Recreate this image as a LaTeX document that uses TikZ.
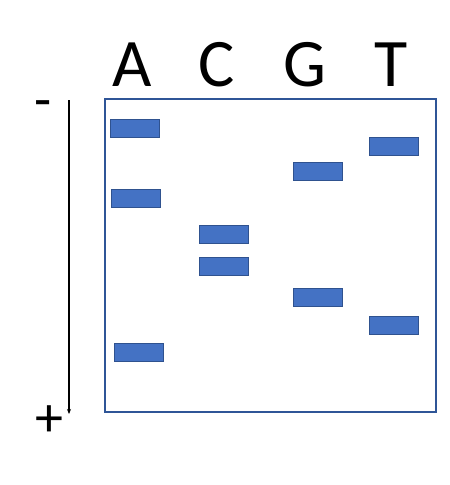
\documentclass[tikz,border=0pt]{standalone}
\usepackage{fontspec}
\setmainfont{Carlito}
\usepackage{tikz}
\usetikzlibrary{arrows.meta}

\definecolor{gelBlue}{HTML}{2F5597}
\definecolor{bandFill}{HTML}{4472C4}
\definecolor{bandLine}{HTML}{2F528F}

\begin{document}
\begin{tikzpicture}[x=1pt, y=-1pt, inner sep=0pt]
            \useasboundingbox (0,0) rectangle (450,485);

            \tikzstyle{myBand}=[rectangle, fill=bandFill, draw=bandLine, line width=0.9pt, minimum width=49pt, minimum height=18pt];
            \tikzstyle{myBase}=[anchor=base, font=\fontsize{68}{68}\selectfont];
            \tikzstyle{mySign}=[font=\fontsize{56}{56}\selectfont];

            \node[draw=gelBlue, line width=2.7pt, minimum width=331pt, minimum height=313pt] (gel) at (270.5,255.5) {};

            \node[myBase] (A) at (132,86) {A};
            \node[myBase] (C) at (217,86) {C};
            \node[myBase] (G) at (305,86) {G};
            \node[myBase] (T) at (391,86) {T};

            \node[myBand] (a1) at (134.5,128.5) {};
            \node[myBand] (a2) at (135.5,198.5) {};
            \node[myBand] (a3) at (138.5,352.5) {};
            \node[myBand] (c1) at (223.5,234) {};
            \node[myBand] (c2) at (223.5,266) {};
            \node[myBand] (g1) at (317.5,171) {};
            \node[myBand] (g2) at (317.5,297) {};
            \node[myBand] (t1) at (393.5,146) {};
            \node[myBand] (t2) at (393.5,325) {};

            \coordinate (top) at (69,100);
            \coordinate (bottom) at (69,414);
            \draw[line width=1.3pt, -{Stealth[length=5pt, width=4pt]}] (top) -- (bottom);

            \node[mySign] (minus) at (43,110) {-};
            \node[mySign] (plus) at (49,421) {+};
         \end{tikzpicture}
\end{document}
